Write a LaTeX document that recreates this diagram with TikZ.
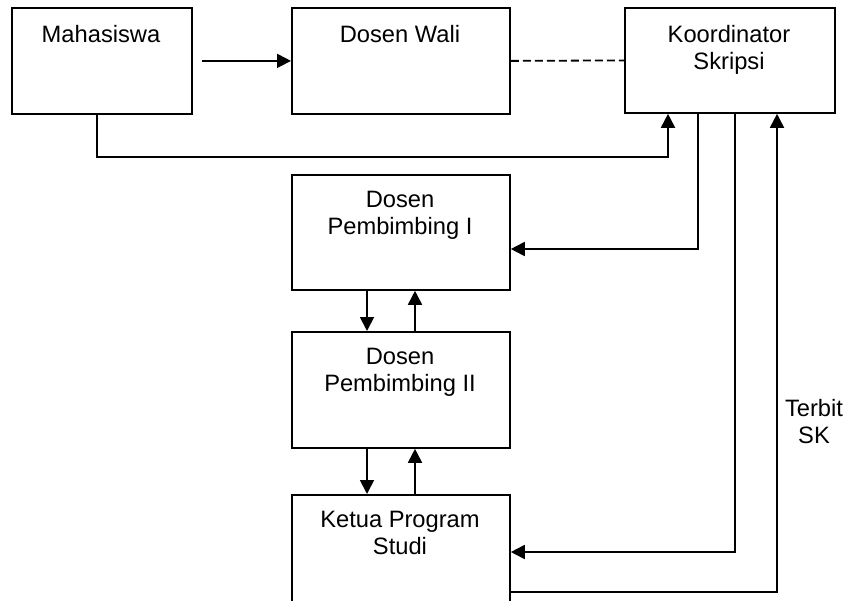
\documentclass[tikz,border=0pt]{standalone}
\usepackage{fontspec}
\setmainfont{Liberation Sans}
\usetikzlibrary{arrows.meta}
\begin{document}
\begin{tikzpicture}[x=1pt,y=-1pt,
  box/.style={draw,line width=1.8pt,minimum width=218pt,minimum height=115pt,inner sep=0pt,anchor=north west},
  lbl/.style={anchor=north,align=center,inner sep=0pt,font=\fontsize{23.7}{27}\selectfont},
  con/.style={line width=1.8pt},
  arr/.style={con,-{Triangle[length=14pt,width=14pt]}}]
\useasboundingbox (0,0) rectangle (848,600);
\clip (0,0) rectangle (848,600);
% boxes
\node[box,minimum width=180pt,minimum height=106pt] (mhs) at (11,7) {};
\node[box,minimum height=106pt] (dw) at (291,7) {};
\node[box,minimum width=210pt,minimum height=105pt] (kor) at (624,7) {};
\node[box] (p1) at (291,174) {};
\node[box,minimum height=116pt] (p2) at (291,331) {};
\node[box,minimum height=130pt] (kp) at (291,494) {};
% labels
\node[lbl] (mhs-t) at (101,25) {Mahasiswa};
\node[lbl] (dw-t) at (400,25) {Dosen Wali};
\node[lbl] (kor-t) at (729,25) {Koordinator\\Skripsi};
\node[lbl] (p1-t) at (400,191) {Dosen\\Pembimbing I};
\node[lbl] (p2-t) at (400,348) {Dosen\\Pembimbing II};
\node[lbl] (kp-t) at (400,511) {Ketua Program\\Studi};
\node[lbl] (sk) at (814,399) {Terbit\\SK};
% connectors
\draw[arr,shorten <=9pt] (mhs.east) -- (dw.west);
\draw[con,dash pattern=on 8pt off 4pt] (dw.east) -- (kor.west);
\draw[arr] (mhs.south -| 97,0) -- (97,157) -- (668,157) -- (kor.south -| 668,0);
\draw[arr] (kor.south -| 698,0) -- (698,249) -- (p1.east |- 0,249);
\draw[arr] (p1.south -| 367,0) -- (p2.north -| 367,0);
\draw[arr] (p2.north -| 415,0) -- (p1.south -| 415,0);
\draw[arr] (p2.south -| 367,0) -- (kp.north -| 367,0);
\draw[arr] (kp.north -| 415,0) -- (p2.south -| 415,0);
\draw[arr] (kor.south -| 735,0) -- (735,552) -- (kp.east |- 0,552);
\draw[arr] (kp.east |- 0,592) -- (777,592) -- (kor.south -| 777,0);
\end{tikzpicture}
\end{document}
